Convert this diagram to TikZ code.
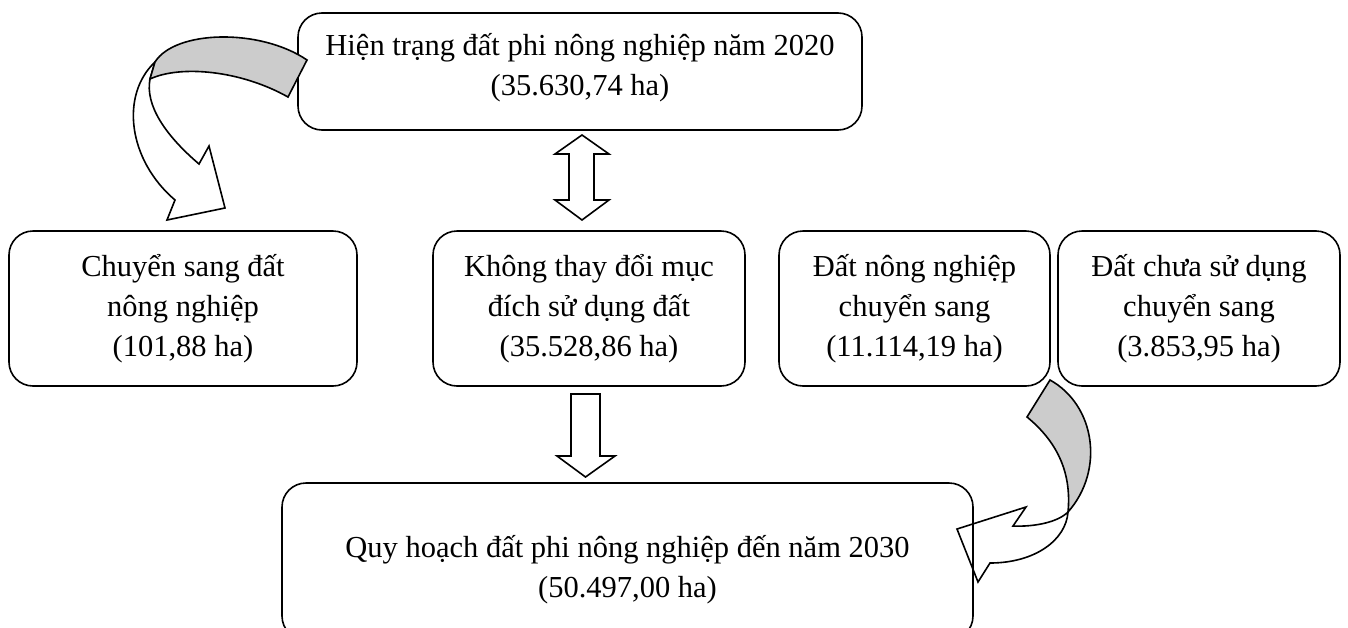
\documentclass[tikz,border=0pt]{standalone}
\usepackage{fontspec}
\setmainfont{Liberation Serif}
\begin{document}
\begin{tikzpicture}[x=1pt,y=-1pt,
  box/.style={draw, line width=1.6pt, rounded corners=24pt, inner sep=0pt, outer sep=0pt},
  lbl/.style={align=center, font=\fontsize{30.5}{40}\selectfont, inner sep=0pt},
  blk/.style={draw, line width=1.6pt, fill=white, line join=miter},
  ribbon/.style={draw, line width=1.6pt, fill=gray!40, line join=miter}]
\useasboundingbox (0,0) rectangle (1348,627);
% boxes
\node[box, minimum width=564pt, minimum height=117pt] (b1) at (580,71.5) {};
\node[lbl] (t1) at (580,68) {Hiện trạng đất phi nông nghiệp năm 2020\\(35.630,74 ha)};
\node[box, minimum width=348pt, minimum height=155pt] (b2) at (183,308.5) {};
\node[lbl] (t2) at (183,309) {Chuyển sang đất\\nông nghiệp\\(101,88 ha)};
\node[box, minimum width=312pt, minimum height=155pt] (b3) at (589,308.5) {};
\node[lbl] (t3) at (589,309) {Không thay đổi mục\\đích sử dụng đất\\(35.528,86 ha)};
\node[box, minimum width=271pt, minimum height=155pt] (b4) at (914.5,308.5) {};
\node[lbl] (t4) at (914.5,309) {Đất nông nghiệp\\chuyển sang\\(11.114,19 ha)};
\node[box, minimum width=282pt, minimum height=155pt] (b5) at (1199,308.5) {};
\node[lbl] (t5) at (1199,309) {Đất chưa sử dụng\\chuyển sang\\(3.853,95 ha)};
% left curved arrow
\draw[blk] (155,62) .. controls (120,95) and (128,160) .. (175,200) -- (167,220) -- (225,208) -- (209,146) -- (199,164) .. controls (165,135) and (145,105) .. (150,79) -- cycle;
\draw[ribbon] (307,60) .. controls (260,28) and (175,30) .. (155,62) -- (150,79) .. controls (180,65) and (240,70) .. (288,97) -- cycle;
% straight arrows
\draw[blk] (582,135) -- (609,154) -- (594,154) -- (594,200) -- (609,200) -- (582,220) -- (555,200) -- (569,200) -- (569,154) -- (555,154) -- cycle;
\draw[blk] (571,394) -- (600,394) -- (600,456) -- (615,456) -- (585.5,477) -- (557,456) -- (571,456) -- cycle;
% right curved arrow
\draw[blk] (1068,512) .. controls (1066,540) and (1035,563) .. (990,563) -- (978,582) -- (957,529) -- (1026,507) -- (1013,526) .. controls (1035,527) and (1058,522) .. (1068,512) -- cycle;
\draw[ribbon] (1050,380) .. controls (1095,405) and (1105,470) .. (1068,512) .. controls (1072,470) and (1055,440) .. (1027,417) -- cycle;
% bottom box
\node[box, minimum width=691pt, minimum height=157pt] (b6) at (627.5,561.5) {};
\node[lbl] (t6) at (627.5,570) {Quy hoạch đất phi nông nghiệp đến năm 2030\\(50.497,00 ha)};
\end{tikzpicture}
\end{document}
